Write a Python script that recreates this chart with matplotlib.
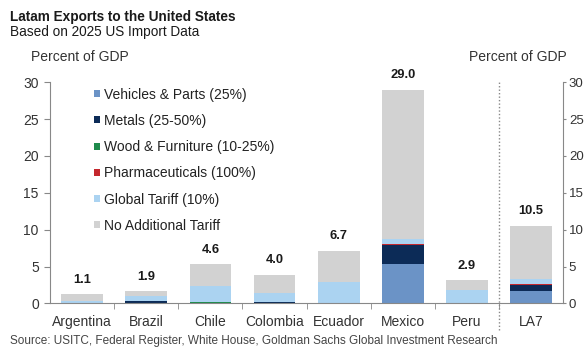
import numpy as np
import matplotlib
matplotlib.use("Agg")
from matplotlib import pyplot as plt

plt.rcParams["font.family"] = ["Liberation Sans", "DejaVu Sans"]

countries = ["Argentina", "Brazil", "Chile", "Colombia", "Ecuador", "Mexico", "Peru", "LA7"]
totals_label = ["1.1", "1.9", "4.6", "4.0", "6.7", "29.0", "2.9", "10.5"]

# segments (percent of GDP)
vehicles = [0.0, 0.1, 0.0, 0.0, 0.0, 5.4, 0.0, 1.65]
metals = [0.0, 0.25, 0.0, 0.25, 0.0, 2.55, 0.0, 0.85]
wood = [0.0, 0.0, 0.25, 0.0, 0.0, 0.0, 0.0, 0.0]
pharma = [0.0, 0.0, 0.0, 0.0, 0.0, 0.1, 0.0, 0.1]
global_tariff = [0.4, 0.65, 2.1, 1.1, 2.9, 0.65, 1.8, 0.7]
no_tariff = [0.85, 0.7, 2.95, 2.55, 4.25, 20.3, 1.4, 7.25]

series = [
    ("Vehicles & Parts (25%)", vehicles, "#6b93c6"),
    ("Metals (25-50%)", metals, "#0c2b57"),
    ("Wood & Furniture (10-25%)", wood, "#1f8b4c"),
    ("Pharmaceuticals (100%)", pharma, "#c4282e"),
    ("Global Tariff (10%)", global_tariff, "#abd3f1"),
    ("No Additional Tariff", no_tariff, "#d2d2d2"),
]

fig = plt.figure(figsize=(5.88, 3.48), dpi=100)
ax = fig.add_axes([0.085, 0.128, 0.873, 0.636])
x = np.arange(len(countries))
bottom = np.zeros(len(countries))
for name, vals, col in series:
    ax.bar(x, vals, bottom=bottom, width=0.65, color=col, label=name, linewidth=0)
    bottom += np.array(vals)

for xi, top, lab in zip(x, bottom, totals_label):
    ax.annotate(lab, (xi, top), xytext=(0, 6), textcoords="offset points",
                ha="center", va="bottom", fontsize=9.3, fontweight="bold", color="#1a1a1a")

ax.set_xlim(-0.5, len(countries) - 0.5)
ax.set_ylim(0, 30)
ax.set_yticks(range(0, 31, 5))
ax.set_xticks(x)
ax.set_xticklabels(countries)
ax.set_xticks(np.arange(0.5, len(countries) - 1, 1), minor=True)
ax.tick_params(axis="x", which="major", length=0, pad=8, labelsize=10, labelcolor="#333333")
ax.tick_params(axis="x", which="minor", length=4, color="#888888")
ax.tick_params(axis="y", length=4.5, pad=3.5, labelsize=10, labelcolor="#333333", color="#888888")
for s in ["top", "right"]:
    ax.spines[s].set_visible(False)
for s in ["left", "bottom"]:
    ax.spines[s].set_color("#888888")

# right-hand axis, same scale
ax2 = ax.twinx()
ax2.set_ylim(0, 30)
ax2.set_yticks(range(0, 31, 5))
ax2.tick_params(axis="y", length=2.5, pad=1.5, labelsize=9.5, labelcolor="#333333", color="#888888")
for s in ["top", "left", "bottom"]:
    ax2.spines[s].set_visible(False)
ax2.spines["right"].set_color("#888888")

ax.plot([6.5, 6.5], [-3.6, 30], ls=(0, (1, 1.5)), color="#888888", lw=1, clip_on=False)

leg = ax.legend(loc="upper left", bbox_to_anchor=(0.075, 1.0), frameon=False,
                fontsize=10, handlelength=0.4, handleheight=0.4, handletextpad=0.3,
                labelspacing=0.88, labelcolor="#222222", borderaxespad=0.0)

fig.text(0.017, 0.952, "Latam Exports to the United States", fontsize=9.8,
         fontweight="bold", color="#1a1a1a", va="center")
fig.text(0.017, 0.909, "Based on 2025 US Import Data", fontsize=9.8,
         color="#1a1a1a", va="center")
fig.text(0.053, 0.836, "Percent of GDP", fontsize=10, color="#333333", va="center")
fig.text(0.964, 0.836, "Percent of GDP", fontsize=10, color="#333333", va="center", ha="right")
fig.text(0.017, 0.004, "Source: USITC, Federal Register, White House, Goldman Sachs Global Investment Research",
         fontsize=8.5, color="#444444", va="bottom")

fig.savefig("out.png", dpi=100)
